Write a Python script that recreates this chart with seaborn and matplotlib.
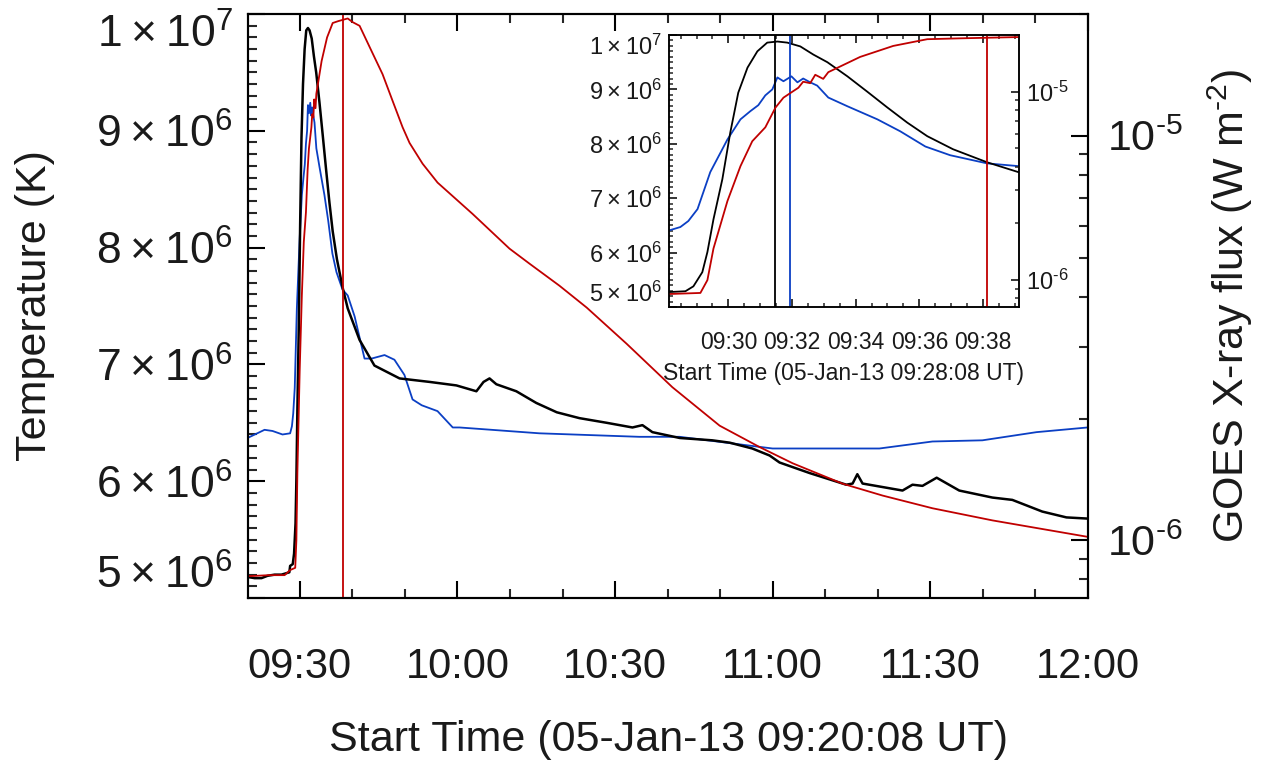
import numpy as np
import pandas as pd
import matplotlib
matplotlib.use("Agg")
import matplotlib.pyplot as plt
import matplotlib.ticker as mticker
import seaborn as sns

# time in minutes after 09:00 UT, 05-Jan-2013
# black: temperature (K), left axis
t_black = [20.05, 21.4, 22.7, 23.85, 25.2, 26.5, 28.0,
           28.15, 28.65, 28.90, 29.18, 29.34, 29.53, 29.81, 30.06, 30.31, 30.60,
           30.91, 31.22, 31.54, 31.85, 32.26, 32.67, 33.11, 33.74, 34.36, 34.99,
           35.62, 36.25, 37.06, 38.13, 39.11,
           41.36, 44.2, 48.98, 54.7, 59.8, 63.6, 64.96, 66.1, 67.4, 71.2, 75.0,
           78.9, 83.2, 88.4, 93.3, 95.2, 97.1, 102.3, 108.5, 111.8, 116.1, 119.4,
           121.3, 127.0, 134.0, 135.2, 136.1, 137.1, 144.7, 146.6, 148.5, 151.2,
           155.5, 161.8, 165.6, 171.3, 175.9, 179.9]
temp_black = [5.18e6, 5.17e6, 5.17e6, 5.19e6, 5.20e6, 5.20e6, 5.22e6,
              5.275e6, 5.29e6, 5.38e6, 5.64e6, 6.01e6, 6.61e6, 7.35e6, 8.21e6, 8.94e6, 9.40e6,
              9.70e6, 9.86e6, 9.88e6, 9.86e6, 9.79e6, 9.64e6, 9.50e6, 9.24e6, 8.96e6, 8.67e6,
              8.39e6, 8.14e6, 7.90e6, 7.66e6, 7.48e6,
              7.21e6, 6.99e6, 6.88e6, 6.85e6, 6.82e6, 6.77e6, 6.85e6, 6.88e6, 6.83e6, 6.77e6, 6.67e6,
              6.59e6, 6.54e6, 6.50e6, 6.46e6, 6.48e6, 6.42e6, 6.37e6, 6.35e6, 6.33e6, 6.28e6, 6.22e6,
              6.16e6, 6.07e6, 5.97e6, 5.98e6, 6.06e6, 5.98e6, 5.92e6, 5.97e6, 5.96e6, 6.03e6,
              5.92e6, 5.86e6, 5.84e6, 5.74e6, 5.69e6, 5.68e6]

# blue: GOES temperature (K), left axis
t_blue = [20.05, 23.28, 24.8, 26.7,
          28.15, 28.49, 28.74, 29.03, 29.43, 29.97, 30.38, 30.69, 30.94, 31.16, 31.38,
          31.54, 31.73, 31.98, 32.17, 32.35, 32.57, 32.79, 33.14, 33.74, 34.68, 35.40,
          36.19, 36.97, 38.13, 39.11,
          40.43, 42.31, 43.65, 46.12, 48.0, 49.9, 51.45, 53.2, 56.2, 59.1, 60.4, 75.6,
          94.6, 102.3, 119.97, 140.3, 150.4, 159.9, 170.2, 179.9]
temp_blue = [6.37e6, 6.44e6, 6.43e6, 6.40e6,
             6.41e6, 6.47e6, 6.58e6, 6.80e6, 7.48e6, 8.08e6, 8.45e6, 8.60e6, 8.71e6, 8.89e6, 9.00e6,
             9.22e6, 9.15e6, 9.24e6, 9.13e6, 9.20e6, 9.13e6, 9.07e6, 8.85e6, 8.69e6, 8.45e6, 8.23e6,
             7.95e6, 7.79e6, 7.64e6, 7.59e6,
             7.41e6, 7.05e6, 7.05e6, 7.08e6, 7.04e6, 6.91e6, 6.70e6, 6.65e6, 6.60e6, 6.46e6, 6.46e6, 6.41e6,
             6.38e6, 6.38e6, 6.28e6, 6.28e6, 6.34e6, 6.35e6, 6.42e6, 6.46e6]

# red: GOES 1-8 A flux (W m^-2), right axis
t_red = [20.05, 24.2, 27.1,
         28.15, 29.12, 29.34, 29.53, 29.97, 30.38, 30.75, 31.16, 31.48, 31.73, 32.01,
         32.20, 32.35, 32.57, 32.73, 32.98, 33.14, 33.74, 34.14, 35.18, 36.25, 37.28, 39.11,
         40.03, 41.37, 43.84, 45.74, 47.65, 49.55, 50.88, 53.36, 56.21, 62.87, 69.9, 73.7,
         79.4, 84.6, 92.2, 100.9, 109.9, 117.5, 123.8, 133.3, 140.9, 150.4, 161.8, 179.9]
flux_red = [8.15e-7, 8.2e-7, 8.2e-7,
            8.44e-7, 8.55e-7, 1.0e-6, 1.47e-6, 2.63e-6, 4.03e-6, 5.46e-6, 6.47e-6, 8.24e-6, 9.3e-6, 1.0e-5,
            1.05e-5, 1.13e-5, 1.11e-5, 1.23e-5, 1.17e-5, 1.27e-5, 1.42e-5, 1.53e-5, 1.75e-5, 1.90e-5, 1.92e-5, 1.95e-5,
            1.91e-5, 1.87e-5, 1.60e-5, 1.42e-5, 1.22e-5, 1.05e-5, 9.6e-6, 8.53e-6, 7.66e-6, 6.41e-6, 5.26e-6, 4.83e-6,
            4.26e-6, 3.76e-6, 3.06e-6, 2.39e-6, 1.92e-6, 1.70e-6, 1.55e-6, 1.38e-6, 1.29e-6, 1.20e-6, 1.12e-6, 1.02e-6]

# peak times (minutes after 09:00)
peak_black = 31.47
peak_blue = 31.95
peak_red = 38.13

main_xlim = (20.133, 180.0)
inset_xlim = (28.133, 39.133)
temp_lim = (5e6, 1e7)
flux_lim = (7.2e-7, 2.0e-5)
temp_ticks = [5e6, 6e6, 7e6, 8e6, 9e6, 1e7]
temp_labels = ['5\u2009×\u200910$^{6}$', '6\u2009×\u200910$^{6}$', '7\u2009×\u200910$^{6}$',
               '8\u2009×\u200910$^{6}$', '9\u2009×\u200910$^{6}$', '1\u2009×\u200910$^{7}$']
flux_ticks = [1e-6, 1e-5]
flux_labels = [r'10$^{\text{-6}}$', r'10$^{\text{-5}}$']
main_xticks = [30, 60, 90, 120, 150, 180]
inset_xticks = [30, 32, 34, 36, 38]

BLACK = '#000000'
BLUE = '#0b3fc4'
RED = '#c00000'
TXT = '#1a1a1a'

sns.set_style("ticks")
plt.rcParams['font.family'] = ['Liberation Sans', 'DejaVu Sans']
plt.rcParams['mathtext.fontset'] = 'custom'
plt.rcParams['mathtext.rm'] = 'Liberation Sans'
plt.rcParams['mathtext.it'] = 'Liberation Sans:italic'
plt.rcParams['mathtext.bf'] = 'Liberation Sans:bold'
plt.rcParams['text.color'] = TXT
plt.rcParams['axes.labelcolor'] = TXT


def hhmm(m, pos=None):
    m = int(round(m))
    return f"{9 + m // 60:02d}:{m % 60:02d}"


def style_axes(ax, ax2, xticks, xminor, maj, mnr, lw, fs_x, fs_l, fs_r, pads):
    ax.set_xticks(xticks)
    ax.xaxis.set_major_formatter(mticker.FuncFormatter(hhmm))
    ax.xaxis.set_minor_locator(mticker.MultipleLocator(xminor))
    ax.set_yticks(temp_ticks)
    ax.set_yticklabels(temp_labels)
    ax.yaxis.set_minor_locator(mticker.MultipleLocator(1e5))
    ax.tick_params(axis='both', which='major', direction='in', length=maj, width=lw,
                   colors=BLACK, labelcolor=TXT)
    ax.tick_params(axis='both', which='minor', direction='in', length=mnr, width=lw)
    ax.tick_params(axis='x', which='both', top=True, pad=pads[0], labelsize=fs_x)
    ax.tick_params(axis='y', which='both', right=False, pad=pads[1], labelsize=fs_l)
    labs = ax.get_yticklabels()
    labs[0].set_verticalalignment('bottom')
    labs[-1].set_verticalalignment('top')
    ax2.set_yscale('log')
    ax2.set_ylim(*flux_lim)
    ax2.yaxis.set_major_locator(mticker.FixedLocator(flux_ticks))
    ax2.yaxis.set_major_formatter(mticker.FixedFormatter(flux_labels))
    ax2.yaxis.set_minor_locator(mticker.LogLocator(base=10, subs=np.arange(2, 10)))
    ax2.yaxis.set_minor_formatter(mticker.NullFormatter())
    ax2.tick_params(axis='y', which='major', direction='in', length=maj, width=lw,
                    colors=BLACK, labelcolor=TXT, labelsize=fs_r, pad=pads[2])
    ax2.tick_params(axis='y', which='minor', direction='in', length=mnr, width=lw)
    for a in (ax, ax2):
        for s in a.spines.values():
            s.set_linewidth(lw)
            s.set_color(BLACK)


df_black = pd.DataFrame({'t': t_black, 'T': temp_black})
df_blue = pd.DataFrame({'t': t_blue, 'T': temp_blue})
df_red = pd.DataFrame({'t': t_red, 'F': flux_red})

fig = plt.figure(figsize=(12.63, 7.63), dpi=100)

# main panel
ax = fig.add_axes([0.19636, 0.21625, 0.66508, 0.76540])
ax2 = ax.twinx()
sns.lineplot(data=df_blue, x='t', y='T', ax=ax, color=BLUE, lw=1.3, estimator=None, sort=False)
sns.lineplot(data=df_black, x='t', y='T', ax=ax, color=BLACK, lw=1.8, estimator=None, sort=False)
sns.lineplot(data=df_red, x='t', y='F', ax=ax2, color=RED, lw=1.3, estimator=None, sort=False)
ax2.axvline(peak_red, color=RED, lw=1.3)
ax.set_xlim(*main_xlim)
ax.set_ylim(*temp_lim)
style_axes(ax, ax2, main_xticks, 10, 12, 6.5, 1.5, 30, 32, 31, (35, 11, 14))
ax.set_xlabel('Start Time (05-Jan-13 09:20:08 UT)', fontsize=31, labelpad=24)
ax.set_ylabel('Temperature (K)', fontsize=31, labelpad=30)
ax2.set_ylabel('GOES X-ray flux (W m$^{\\text{-2}}$)', fontsize=31, labelpad=16)

# inset panel
axi = fig.add_axes([0.52969, 0.59764, 0.27712, 0.35649])
axi.set_facecolor('white')
axi2 = axi.twinx()
sns.lineplot(data=df_blue, x='t', y='T', ax=axi, color=BLUE, lw=1.3, estimator=None, sort=False)
sns.lineplot(data=df_black, x='t', y='T', ax=axi, color=BLACK, lw=1.3, estimator=None, sort=False)
sns.lineplot(data=df_red, x='t', y='F', ax=axi2, color=RED, lw=1.3, estimator=None, sort=False)
axi.axvline(peak_black, color=BLACK, lw=1.3)
axi.axvline(peak_blue, color=BLUE, lw=1.3)
axi2.axvline(peak_red, color=RED, lw=1.3)
axi.set_xlim(*inset_xlim)
axi.set_ylim(*temp_lim)
style_axes(axi, axi2, inset_xticks, 0.5, 6, 3, 1.1, 16.5, 17, 17, (17, 5, 5))
axi.set_xlabel('Start Time (05-Jan-13 09:28:08 UT)', fontsize=16.5, labelpad=6)
axi.set_ylabel('')
axi2.set_ylabel('')

fig.savefig('out.png', dpi=100)
